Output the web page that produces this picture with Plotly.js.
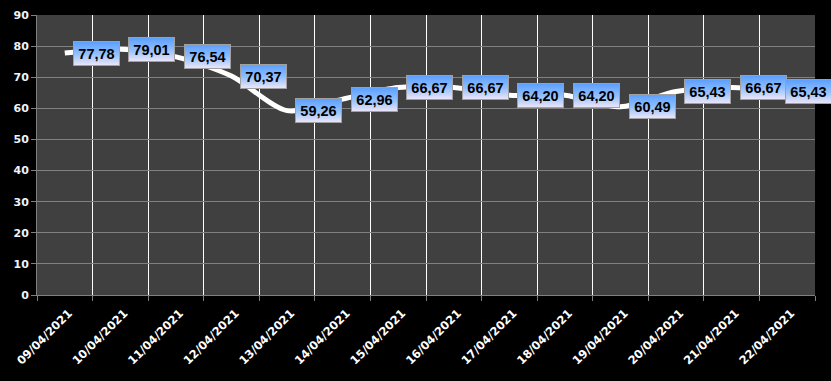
<!DOCTYPE html>
<html>
<head>
<meta charset="utf-8">
<script src="https://cdn.plot.ly/plotly-3.0.1.min.js"></script>
<style>html,body{margin:0;padding:0;background:#000;}#chart{width:831px;height:381px;}</style>
</head>
<body>
<div id="chart"></div>
<script>
const dates = ["09/04/2021","10/04/2021","11/04/2021","12/04/2021","13/04/2021","14/04/2021","15/04/2021","16/04/2021","17/04/2021","18/04/2021","19/04/2021","20/04/2021","21/04/2021","22/04/2021"];
const values = [77.78,79.01,76.54,70.37,59.26,62.96,66.67,66.67,64.20,64.20,60.49,65.43,66.67,65.43];
const yTicks = [0,10,20,30,40,50,60,70,80,90];

const fmt = v => v.toFixed(2).replace('.', ',');
const AXFONT = 'DejaVu Sans, sans-serif';
const LBLFONT = 'Liberation Sans, Arial, sans-serif';

const trace = {
  x: dates, y: values, type: 'scatter', mode: 'lines',
  line: {color: '#ffffff', width: 5, shape: 'spline', smoothing: 0.8},
  hoverinfo: 'none'
};

const annotations = values.map((v, i) => ({
  x: dates[i], y: v, xref: 'x', yref: 'y',
  text: '<b>' + fmt(v) + '</b>', showarrow: false,
  xanchor: 'left', yanchor: 'middle',
  xshift: i === values.length - 1 ? -2 : 8,
  width: 38, height: 16, align: 'center', valign: 'middle',
  font: {family: LBLFONT, size: 14.5, color: '#000000', weight: 'bold'},
  bgcolor: '#8ab8f8', bordercolor: '#a0a0a0', borderwidth: 1, borderpad: 3.5
}));

const layout = {
  width: 831, height: 381,
  margin: {l: 37, r: 16, t: 15, b: 86},
  paper_bgcolor: '#000000', plot_bgcolor: '#404040',
  showlegend: false,
  xaxis: {
    type: 'category', tickson: 'boundaries',
    range: [-0.5, 13.5],
    showgrid: true, gridcolor: '#ffffff', gridwidth: 1,
    showline: true, linecolor: '#808080', linewidth: 1,
    ticks: 'outside', ticklen: 5, tickcolor: '#808080',
    tickangle: -45, ticklabelstandoff: 6, ticklabelshift: 4,
    tickfont: {family: AXFONT, size: 11.5, color: '#ffffff', weight: 'bold'},
    zeroline: false
  },
  yaxis: {
    range: [0, 90], tickvals: yTicks, ticktext: yTicks.map(String),
    showgrid: true, gridcolor: '#808080', gridwidth: 1,
    showline: true, linecolor: '#808080', linewidth: 1,
    ticks: 'outside', ticklen: 5, tickcolor: '#808080',
    tickfont: {family: AXFONT, size: 11, color: '#eef4ff', weight: 'bold'},
    zeroline: false
  },
  annotations: annotations
};

Plotly.newPlot('chart', [trace], layout, {displayModeBar: false, staticPlot: true}).then(gd => {
  const ns = 'http://www.w3.org/2000/svg';
  gd.querySelectorAll('.annotation rect.bg').forEach(r => {
    const svg = r.ownerSVGElement;
    if (!svg.querySelector('#lblgrad')) {
      let defs = svg.querySelector('defs');
      if (!defs) { defs = document.createElementNS(ns, 'defs'); svg.insertBefore(defs, svg.firstChild); }
      const lg = document.createElementNS(ns, 'linearGradient');
      lg.setAttribute('id', 'lblgrad');
      lg.setAttribute('x1', '0'); lg.setAttribute('y1', '0');
      lg.setAttribute('x2', '0'); lg.setAttribute('y2', '1');
      [['0%', '#5a9eff'], ['50%', '#8fbefd'], ['100%', '#eee6f8']].forEach(([o, c]) => {
        const s = document.createElementNS(ns, 'stop');
        s.setAttribute('offset', o); s.setAttribute('stop-color', c);
        lg.appendChild(s);
      });
      defs.appendChild(lg);
    }
    r.style.fill = 'url(#lblgrad)';
  });
});
</script>
</body>
</html>
